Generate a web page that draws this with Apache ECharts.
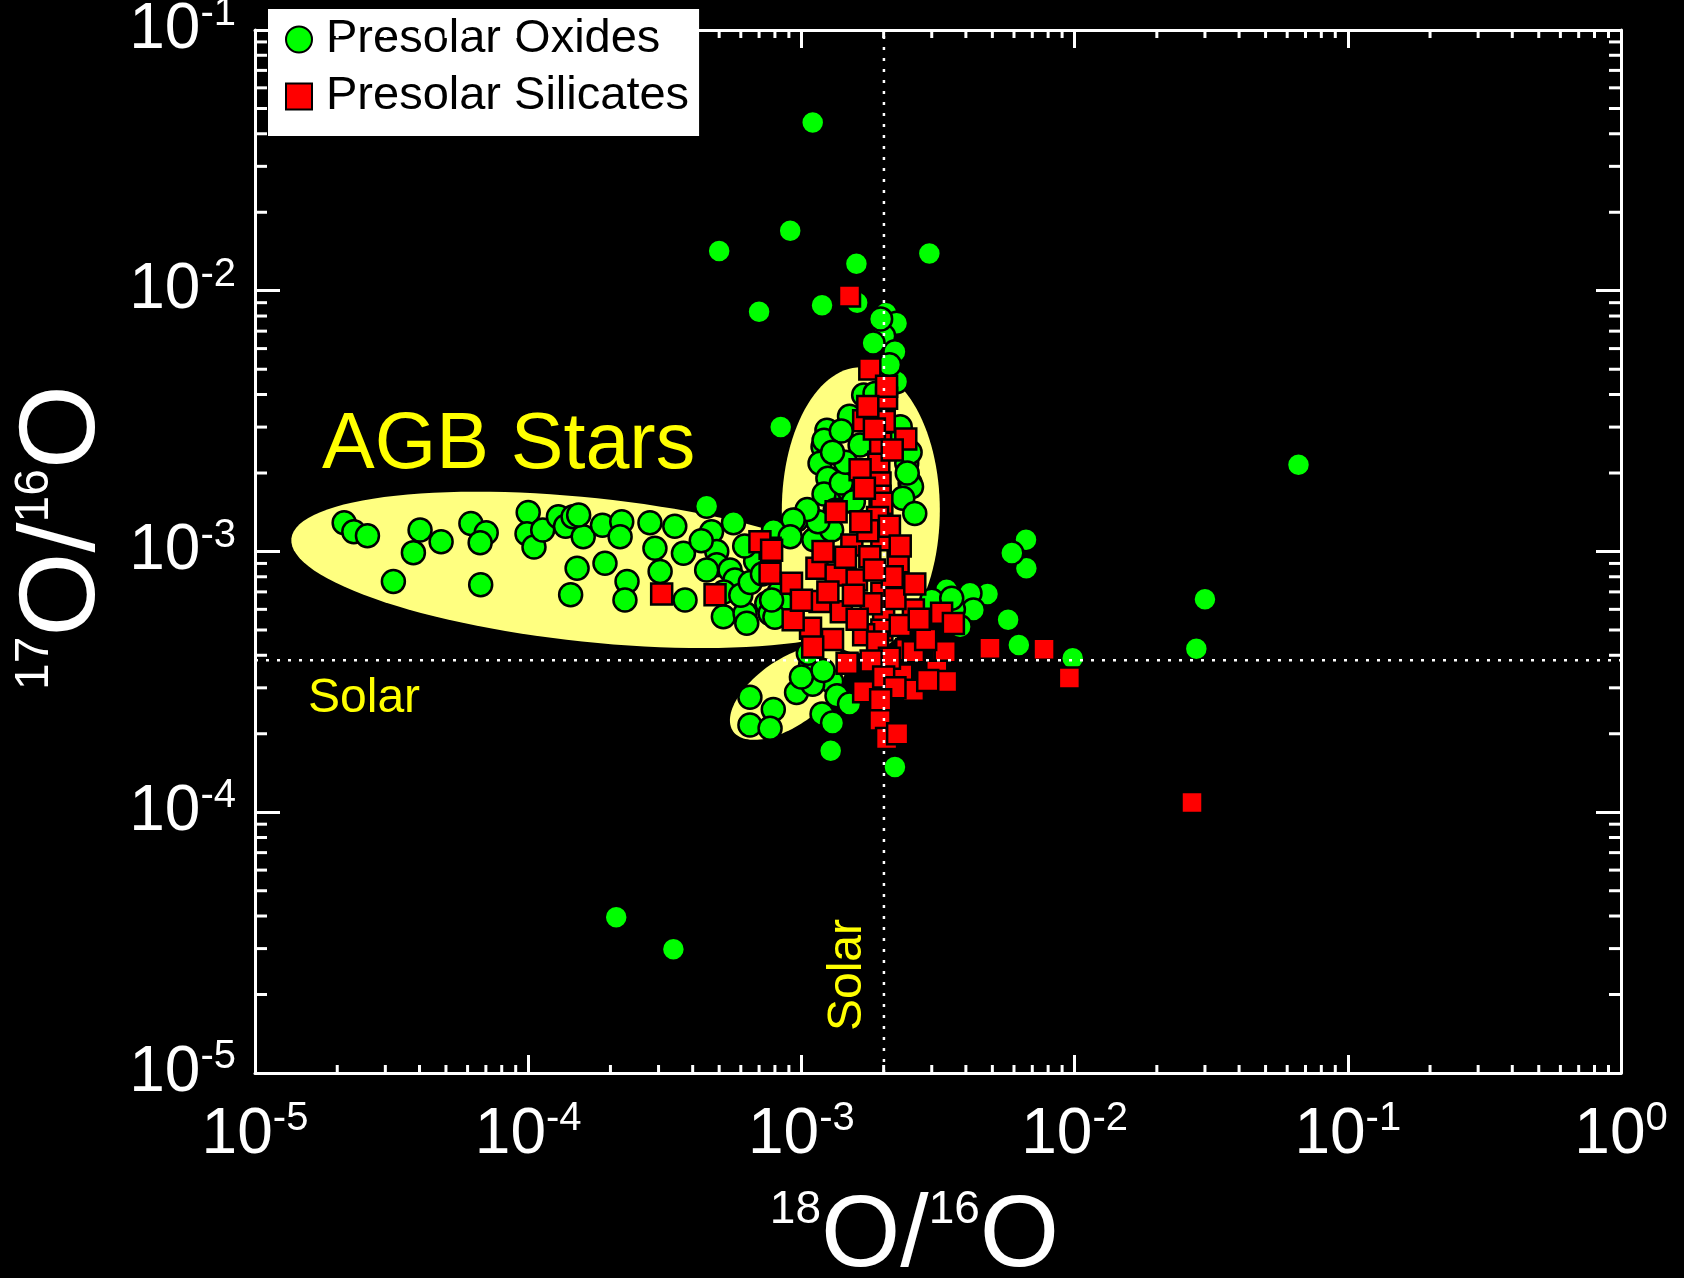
<!DOCTYPE html>
<html><head><meta charset="utf-8">
<script src="https://cdn.jsdelivr.net/npm/echarts@6/dist/echarts.min.js"></script>
<style>html,body{margin:0;padding:0;background:#000}#chart{width:1684px;height:1278px}</style>
</head><body><div id="chart"></div><script>
// ---- axis ranges and reference (solar) values ----
const X_MIN = 1e-5, X_MAX = 1, Y_MIN = 1e-5, Y_MAX = 1e-1;
const SOLAR_18_16 = 2.005e-3;
const SOLAR_17_16 = 3.829e-4;

// ---- data: [18O/16O, 17O/16O] ----
const presolarOxides = [
  [1.10e-3,4.42e-2],[9.1e-4,1.70e-2],[5.0e-4,1.42e-2],[2.94e-3,1.39e-2],[1.59e-3,1.27e-2],
  [7.0e-4,8.3e-3],[1.19e-3,8.8e-3],[1.6e-3,9.0e-3],[8.4e-4,3.0e-3],
  [6.6e-2,2.15e-3],[3.0e-2,6.56e-4],[2.79e-2,4.24e-4],[9.84e-3,3.90e-4],
  [6.64e-3,1.11e-3],[6.66e-3,8.63e-4],[5.89e-3,9.87e-4],[6.25e-3,4.38e-4],[5.71e-3,5.47e-4],[4.80e-3,6.87e-4],
  [1.28e-3,1.72e-4],[2.20e-3,1.49e-4],[2.10e-4,3.96e-5],[3.40e-4,2.98e-5],
  [2.04e-3,8.2e-3],[2.23e-3,7.5e-3],[2.00e-3,6.71e-3],[1.83e-3,6.3e-3],[2.20e-3,5.84e-3],[2.23e-3,4.48e-3],
  [1.69e-3,3.98e-3],[1.86e-3,4.04e-3],[2.1e-3,5.2e-3],[1.95e-3,7.8e-3],
  [1.24e-3,2.92e-3],[1.20e-3,2.52e-3],[1.17e-3,2.18e-3],[1.64e-3,2.56e-3],[2.30e-3,3.01e-3],[2.43e-3,2.18e-3],
  [2.50e-3,1.83e-3],[2.53e-3,1.77e-3],[1.29e-3,1.72e-3],[1.49e-3,1.72e-3],[9.6e-4,1.32e-3],[1.11e-3,1.11e-3],
  [1.29e-3,1.21e-3],[1.21e-3,2.67e-3],[1.25e-3,1.91e-3],[1.21e-3,1.66e-3],[1.40e-3,1.83e-3],[1.33e-3,1.44e-3],
  [1.15e-3,1.3e-3],[1.45e-3,2.2e-3],[1.55e-3,1.55e-3],[2.2e-3,2.6e-3],[2.35e-3,1.6e-3],[1.05e-3,1.45e-3],
  [1.5e-3,3.3e-3],[1.4e-3,2.9e-3],[2.5e-3,2.4e-3],[2.6e-3,1.4e-3],[1.3e-3,2.4e-3],[2.44e-3,2.0e-3],
  [2.12e-5,1.29e-3],[2.30e-5,1.19e-3],[2.58e-5,1.15e-3],[4.02e-5,1.21e-3],[3.80e-5,9.9e-4],[4.80e-5,1.09e-3],
  [3.21e-5,7.67e-4],[6.17e-5,1.28e-3],[7.02e-5,1.18e-3],[6.67e-5,1.08e-3],[6.70e-5,7.45e-4],[1.0e-4,1.41e-3],
  [9.9e-5,1.17e-3],[1.05e-4,1.04e-3],[1.13e-4,1.21e-3],[1.29e-4,1.36e-3],[1.37e-4,1.25e-3],[1.46e-4,1.36e-3],
  [1.51e-4,8.63e-4],[1.43e-4,6.83e-4],[1.59e-4,1.14e-3],[1.87e-4,1.26e-3],[2.20e-4,1.30e-3],[2.17e-4,1.14e-3],
  [1.91e-4,9.02e-4],[2.30e-4,7.67e-4],[2.26e-4,6.52e-4],[2.79e-4,1.29e-3],[2.91e-4,1.03e-3],[3.04e-4,8.38e-4],
  [3.44e-4,1.25e-3],[3.70e-4,9.84e-4],[3.75e-4,6.52e-4],[4.50e-4,1.49e-3],[4.69e-4,1.19e-3],[4.90e-4,1.0e-3],
  [4.90e-4,8.89e-4],[5.64e-4,1.29e-3],[5.48e-4,8.49e-4],[5.71e-4,7.78e-4],[5.18e-4,5.62e-4],[6.22e-4,5.79e-4],
  [7.47e-4,6.33e-4],[7.68e-4,5.79e-4],[9.33e-4,1.32e-3],[6.31e-4,5.31e-4],[4.3e-4,1.1e-3],[4.5e-4,8.5e-4],
  [5.2e-4,7.0e-4],[6.0e-4,6.8e-4],[6.5e-4,7.6e-4],[6.8e-4,9.2e-4],[6.2e-4,1.05e-3],[7.2e-4,8.2e-4],
  [8.3e-4,7.0e-4],[8.6e-4,6.3e-4],[7.9e-4,1.2e-3],[9.1e-4,1.14e-3],[8.0e-4,5.6e-4],[1.53e-4,1.38e-3],
  [6.48e-4,2.76e-4],[7.89e-4,2.48e-4],[6.48e-4,2.16e-4],[7.68e-4,2.10e-4],[9.6e-4,2.88e-4],[1.19e-3,2.38e-4],
  [1.29e-3,3.17e-4],[1.08e-3,3.67e-4],[1.1e-3,3.1e-4],[1.0e-3,3.3e-4],[1.2e-3,3.5e-4],[1.35e-3,2.8e-4],
  [1.5e-3,2.6e-4],[1.3e-3,2.2e-4],
  [3.40e-3,7.13e-4],[4.14e-3,6.92e-4],[4.26e-3,5.97e-4],[3.81e-3,5.15e-4],[1.06e-3,4.07e-4],[7.78e-4,6.52e-4],
  [3.0e-3,6.5e-4],[3.6e-3,6.0e-4],[3.55e-3,6.62e-4]
];

const presolarSilicates = [
  [1.50e-3,9.55e-3],[2.69e-2,1.09e-4],[9.57e-3,3.27e-4],[7.73e-3,4.22e-4],[4.90e-3,4.26e-4],
  [3.08e-4,6.87e-4],[4.83e-4,6.82e-4],
  [1.78e-3,5.01e-3],[2.05e-3,3.87e-3],[1.69e-3,3.17e-3],[2.01e-3,3.15e-3],[2.41e-3,2.70e-3],[1.92e-3,2.20e-3],
  [1.94e-3,1.83e-3],[1.64e-3,2.06e-3],[1.94e-3,1.63e-3],[1.97e-3,1.53e-3],[1.34e-3,1.42e-3],[1.53e-3,1.06e-3],
  [1.97e-3,1.11e-3],[1.97e-3,6.92e-4],[1.97e-3,5.0e-4],[2.26e-3,9.14e-4],[2.57e-3,5.97e-4],[3.26e-3,5.8e-4],
  [1.14e-3,8.63e-4],[1.17e-3,6.43e-4],[1.40e-3,5.88e-4],[1.69e-3,4.79e-4],[1.08e-3,5.08e-4],[2.43e-3,4.2e-4],
  [3.30e-3,4.2e-4],[1.78e-3,9.55e-4],[1.59e-3,7.78e-4],[1.34e-3,8.13e-4],[7.68e-4,1.03e-3],[7.68e-4,8.26e-4],
  [9.2e-4,7.56e-4],[9.33e-4,5.47e-4],[7.05e-4,1.09e-3],[7.78e-4,1.01e-3],[1.47e-3,3.73e-4],[1.69e-3,2.90e-4],
  [1.94e-3,2.26e-4],[2.05e-3,1.92e-4],[2.33e-3,3.36e-4],[2.57e-3,4.13e-4],[3.36e-3,4.13e-4],[3.13e-3,3.47e-4],
  [3.40e-3,3.17e-4],[2.57e-3,2.94e-4],
  [1.95e-3,2.6e-3],[1.9e-3,1.35e-3],[2.1e-3,1.25e-3],[1.75e-3,1.2e-3],[2.15e-3,8.0e-4],[1.85e-3,8.5e-4],
  [2.0e-3,6.0e-4],[1.8e-3,6.3e-4],[2.2e-3,6.6e-4],[1.6e-3,5.5e-4],[2.3e-3,5.2e-4],[1.9e-3,4.5e-4],
  [2.1e-3,3.9e-4],[1.8e-3,3.8e-4],[2.0e-3,3.3e-4],[2.2e-3,3.0e-4],[1.95e-3,2.7e-4],[2.25e-3,2.0e-4],
  [2.85e-3,4.6e-4],[2.7e-3,5.5e-4],[2.9e-3,3.2e-4],[1.25e-3,7.0e-4],[1.0e-3,6.5e-4],[1.3e-3,4.6e-4],
  [1.55e-3,6.8e-4],[1.45e-3,9.5e-4],[1.65e-3,1.3e-3],[1.2e-3,1.0e-3],[2.3e-3,1.05e-3],[1.85e-3,2.95e-3],
  [2.15e-3,2.45e-3],[1.7e-3,1.75e-3],[2.05e-3,4.3e-3],[1.75e-3,3.6e-3],[3.6e-3,5.3e-4],[2.6e-3,7.5e-4],
  [1.1e-3,4.3e-4]
];

// ---- AGB star region centres (data coordinates) ----
const agbRegionCentres = [[1.68e-4, 8.5e-4], [1.65e-3, 1.44e-3], [8.93e-4, 2.87e-4]];
// region shapes in pixels (semi-axes a, b and tilt in degrees, clockwise positive)
const agbRegionShapes = [{a: 300, b: 72, tilt: 6}, {a: 79, b: 143, tilt: 0}, {a: 67, b: 33, tilt: -35}];

// minor tick values (2..9 x 10^k)
const minorX = [], minorY = [];
for (let k = -5; k <= -1; k++) for (let m = 2; m <= 9; m++) minorX.push(m * Math.pow(10, k));
for (let k = -5; k <= -2; k++) for (let m = 2; m <= 9; m++) minorY.push(m * Math.pow(10, k));

const FONT = '"Liberation Sans", Arial, Helvetica, sans-serif';
const WHITE = '#ffffff';

function expLabel(v) {
  const e = Math.round(Math.log10(v));
  return '{b|10}{s|' + e + '}';
}
const tickRich = {
  b: {fontSize: 64, lineHeight: 72, color: WHITE, fontFamily: FONT},
  s: {fontSize: 40, lineHeight: 40, color: WHITE, fontFamily: FONT, verticalAlign: 'top'}
};
function titleRich(o, s) {
  return {
    o: {fontSize: o, lineHeight: o, color: WHITE, fontFamily: FONT},
    s: {fontSize: s, lineHeight: s, color: WHITE, fontFamily: FONT, verticalAlign: 'top'}
  };
}

const chart = echarts.init(document.getElementById('chart'), null, {renderer: 'canvas'});

const axisLine = {show: true, onZero: false, lineStyle: {color: WHITE, width: 3}};

const option = {
  backgroundColor: '#000000',
  animation: false,
  grid: {left: 255, right: 63, top: 30, bottom: 205, containLabel: false, outerBoundsMode: 'none'},
  legend: {
    orient: 'vertical', left: 268, top: 9,
    backgroundColor: '#ffffff', borderWidth: 0,
    padding: [7, 10, 16, 17], itemGap: 10, itemWidth: 26, itemHeight: 26,
    textStyle: {color: '#000', fontSize: 47, fontFamily: FONT, padding: [0, 0, 0, 9]},
    data: [{name: 'Presolar Oxides', icon: 'circle'}, {name: 'Presolar Silicates', icon: 'rect'}],
    selectedMode: false
  },
  xAxis: [{
    type: 'log', logBase: 10, min: X_MIN, max: X_MAX, position: 'bottom',
    axisLine: axisLine,
    axisTick: {show: true, inside: true, length: 18, lineStyle: {color: WHITE, width: 3}},
    splitLine: {show: false},
    axisLabel: {show: true, margin: 26, formatter: expLabel, rich: tickRich, showMinLabel: true, showMaxLabel: true},
    name: '{s|18}{o|O/}{s|16}{o|O}', nameLocation: 'middle', nameGap: 114,
    nameTextStyle: {rich: titleRich(102, 46), padding: [0, 47, 0, 0]}
  }, {
    type: 'log', logBase: 10, min: X_MIN, max: X_MAX, position: 'top',
    axisLine: axisLine,
    axisTick: {show: true, inside: true, length: 18, lineStyle: {color: WHITE, width: 3}},
    splitLine: {show: false}, axisLabel: {show: false}
  }],
  yAxis: [{
    type: 'log', logBase: 10, min: Y_MIN, max: Y_MAX, position: 'left',
    axisLine: axisLine,
    axisTick: {show: true, inside: true, length: 25, lineStyle: {color: WHITE, width: 3}},
    splitLine: {show: false},
    axisLabel: {show: true, margin: 19, formatter: expLabel, rich: tickRich, showMinLabel: true, showMaxLabel: true},
    name: '{s|17}{o|O/}{s|16}{o|O}', nameLocation: 'middle', nameRotate: 90, nameGap: 128,
    nameTextStyle: {rich: titleRich(108, 48), padding: [0, 0, 0, 28]}
  }, {
    type: 'log', logBase: 10, min: Y_MIN, max: Y_MAX, position: 'right',
    axisLine: axisLine,
    axisTick: {show: true, inside: true, length: 25, lineStyle: {color: WHITE, width: 3}},
    splitLine: {show: false}, axisLabel: {show: false}
  }],
  graphic: [
    {type: 'text', x: 322, y: 446, z: 100, silent: true,
     style: {text: 'AGB Stars', fill: '#ffff00', fontSize: 79, fontFamily: FONT, align: 'left', verticalAlign: 'middle'}},
    {type: 'text', x: 308, y: 699, z: 100, silent: true,
     style: {text: 'Solar', fill: '#ffff00', fontSize: 48, fontFamily: FONT, align: 'left', verticalAlign: 'middle'}},
    {type: 'text', x: 848, y: 975, rotation: Math.PI / 2, z: 100, silent: true,
     style: {text: 'Solar', fill: '#ffff00', fontSize: 48, fontFamily: FONT, align: 'center', verticalAlign: 'middle'}}
  ],
  series: [
    {
      name: 'AGB regions', type: 'custom', xAxisIndex: 0, yAxisIndex: 0, z: 1, silent: true,
      data: agbRegionCentres,
      renderItem: function (params, api) {
        const c = api.coord([api.value(0), api.value(1)]);
        const s = agbRegionShapes[params.dataIndex];
        const th = s.tilt * Math.PI / 180;
        const pts = [];
        for (let i = 0; i < 120; i++) {
          const t = i / 120 * Math.PI * 2;
          pts.push([
            c[0] + s.a * Math.cos(t) * Math.cos(th) - s.b * Math.sin(t) * Math.sin(th),
            c[1] + s.a * Math.cos(t) * Math.sin(th) + s.b * Math.sin(t) * Math.cos(th)
          ]);
        }
        return {type: 'polygon', shape: {points: pts}, style: {fill: '#ffff80'}};
      }
    },
    {
      name: 'Presolar Oxides', type: 'scatter', xAxisIndex: 0, yAxisIndex: 0, z: 2,
      symbol: 'circle', symbolSize: 23,
      itemStyle: {color: '#00ff00', borderColor: '#000', borderWidth: 2.5, opacity: 1},
      data: presolarOxides
    },
    {
      name: 'Presolar Silicates', type: 'scatter', xAxisIndex: 0, yAxisIndex: 0, z: 3,
      symbol: 'rect', symbolSize: 21,
      itemStyle: {color: '#ff0000', borderColor: '#000', borderWidth: 2.5, opacity: 1},
      data: presolarSilicates
    },
    {
      name: 'Solar', type: 'custom', xAxisIndex: 0, yAxisIndex: 0, z: 5, silent: true, clip: false,
      data: [[SOLAR_18_16, SOLAR_17_16]],
      renderItem: function (params, api) {
        const p = api.coord([api.value(0), api.value(1)]);
        const bl = api.coord([X_MIN, Y_MIN]);
        const tr = api.coord([X_MAX, Y_MAX]);
        const st = {stroke: WHITE, lineWidth: 2.5, lineDash: [3, 8]};
        return {type: 'group', children: [
          {type: 'line', shape: {x1: p[0], y1: bl[1], x2: p[0], y2: tr[1]}, style: st},
          {type: 'line', shape: {x1: bl[0], y1: p[1], x2: tr[0], y2: p[1]}, style: st}
        ]};
      }
    },
    {
      name: 'minorX', type: 'custom', xAxisIndex: 0, yAxisIndex: 0, z: 6, silent: true, clip: false,
      data: minorX.map(v => [v, Y_MIN]),
      renderItem: function (params, api) {
        const b = api.coord([api.value(0), Y_MIN]);
        const t = api.coord([api.value(0), Y_MAX]);
        const st = {stroke: WHITE, lineWidth: 3};
        return {type: 'group', children: [
          {type: 'line', shape: {x1: b[0], y1: b[1], x2: b[0], y2: b[1] - 8}, style: st},
          {type: 'line', shape: {x1: t[0], y1: t[1], x2: t[0], y2: t[1] + 8}, style: st}
        ]};
      }
    },
    {
      name: 'minorY', type: 'custom', xAxisIndex: 0, yAxisIndex: 0, z: 6, silent: true, clip: false,
      data: minorY.map(v => [X_MIN, v]),
      renderItem: function (params, api) {
        const l = api.coord([X_MIN, api.value(1)]);
        const r = api.coord([X_MAX, api.value(1)]);
        const st = {stroke: WHITE, lineWidth: 3};
        return {type: 'group', children: [
          {type: 'line', shape: {x1: l[0], y1: l[1], x2: l[0] + 12, y2: l[1]}, style: st},
          {type: 'line', shape: {x1: r[0], y1: r[1], x2: r[0] - 12, y2: r[1]}, style: st}
        ]};
      }
    }
  ]
};
chart.setOption(option);
</script></body></html>
